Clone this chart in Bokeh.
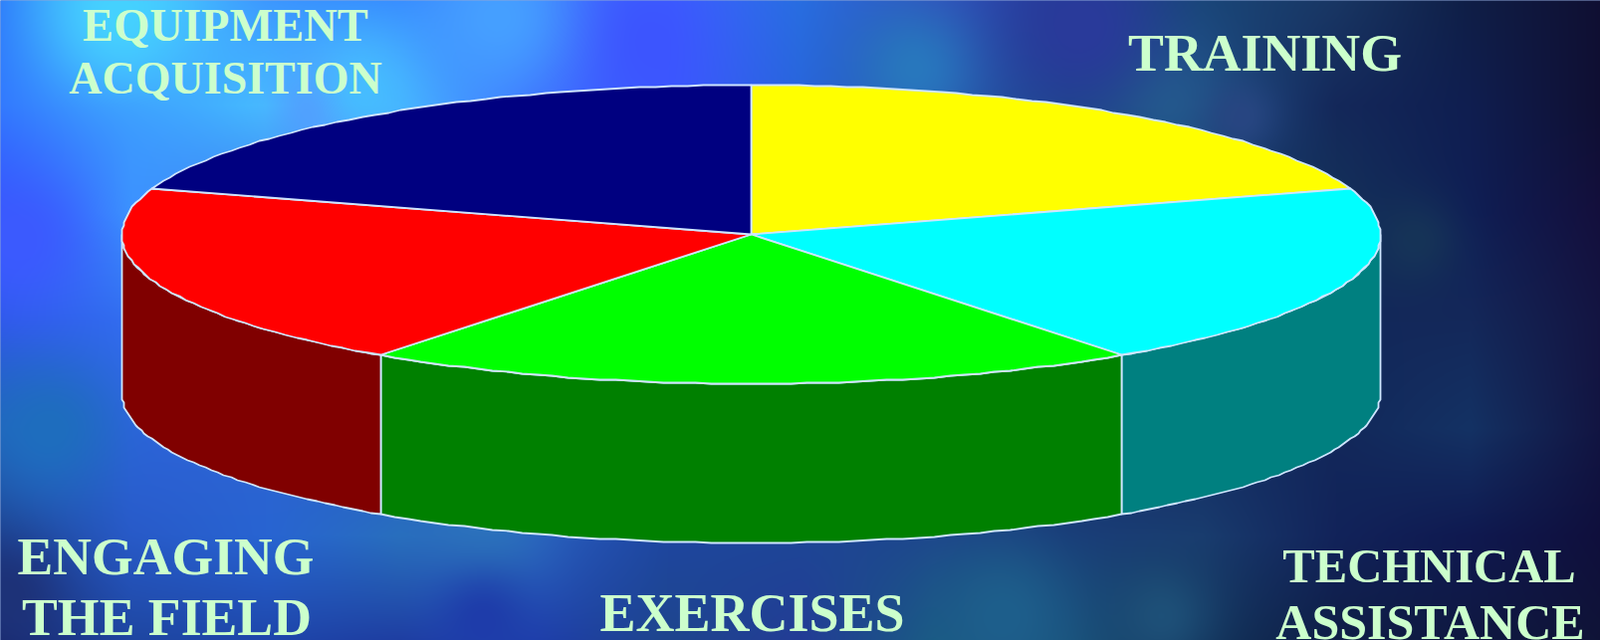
import numpy as np
from bokeh.plotting import figure
from bokeh.models import Range1d
from bokeh.core.properties import value
from bokeh.embed import file_html
from bokeh.resources import INLINE

# ---- chart data ----
categories = ["TRAINING", "TECHNICAL ASSISTANCE", "EXERCISES", "ENGAGING THE FIELD", "EQUIPMENT ACQUISITION"]
shares = [20, 20, 20, 20, 20]
top_colors = ["#FFFF00", "#00FFFF", "#00FF00", "#FF0000", "#000080"]
side_colors = ["#808000", "#008080", "#008000", "#800000", "#000040"]

label_lines = ["TRAINING", "TECHNICAL", "ASSISTANCE", "EXERCISES", "ENGAGING", "THE FIELD", "EQUIPMENT", "ACQUISITION"]
label_x = [1270, 1435, 1436, 755, 166, 167, 226, 226]
label_y = [70, 584, 640, 633, 576, 637, 40, 93]
label_size = [53.8, 48.6, 50, 54, 53.6, 53.7, 46.5, 46]

# pie geometry in reference pixels
CX, CY, RX, RY, DEPTH = 754, 235, 632, 150, 160
W, H = 1607, 643
BASELINE_SHIFT = 0.32  # of the font size, to land the alphabetic baseline on label_y

# background colour samples (rows top to bottom, columns left to right)
bg_rows = [
    [(45,120,250),(70,190,255),(60,150,255),(50,130,255),(60,130,255),(60,100,255),(40,110,225),(50,80,190),(35,60,150),(25,70,120),(25,55,100),(15,30,70),(15,15,50)],
    [(50,120,255),(60,150,255),(70,190,255),(70,170,255),(60,110,255),(60,90,255),(40,100,220),(40,80,170),(30,70,140),(30,75,130),(20,40,90),(15,30,80),(15,15,50)],
    [(50,90,255),(60,150,255),(60,120,240),(50,100,220),(40,90,200),(40,80,190),(30,70,160),(30,60,140),(25,50,120),(20,50,100),(20,50,90),(15,30,85),(20,15,60)],
    [(45,90,230),(50,110,240),(50,100,220),(40,90,200),(40,80,190),(35,75,170),(30,70,150),(30,60,130),(25,50,110),(20,45,100),(18,40,90),(20,40,90),(20,20,65)],
    [(35,100,190),(45,100,220),(45,100,210),(40,90,200),(40,90,190),(35,75,170),(30,70,150),(30,60,130),(25,50,110),(20,45,100),(18,40,90),(20,50,100),(18,20,65)],
    [(30,70,150),(40,90,200),(40,100,210),(40,110,190),(40,90,190),(30,70,160),(30,70,150),(30,70,140),(25,60,120),(25,60,110),(18,35,90),(15,25,80),(15,15,60)],
    [(25,40,110),(30,70,160),(30,70,170),(30,60,160),(30,60,170),(30,70,140),(35,60,150),(25,90,130),(25,80,120),(18,50,90),(15,30,70),(15,25,65),(15,20,55)],
]
# local clouds of the background: x, y, radius, colour
bg_spots = [
    (918, 70, 45, (40,120,190)), (1170, 102, 40, (35,90,140)), (1243, 119, 25, (40,70,130)),
    (1418, 242, 30, (22,52,88)), (1165, 615, 35, (30,80,120)), (1005, 615, 50, (30,95,140)),
    (326, 107, 30, (90,140,255)), (622, 37, 60, (60,80,255)), (485, 549, 45, (45,120,190)),
    (485, 619, 40, (30,60,170)), (51, 430, 45, (30,110,190)), (10, 594, 35, (30,50,120)),
    (120, 15, 55, (70,210,255)), (370, 90, 45, (70,190,255)), (500, 20, 60, (70,160,255)),
    (1085, 30, 50, (42,58,155)), (20, 240, 50, (60,90,255)),
]


def background():
    grid = np.array(bg_rows, dtype=float)
    gy = np.linspace(0, H, grid.shape[0])
    gx = np.linspace(0, W, grid.shape[1])
    xs = np.arange(W)
    ys = np.arange(H)
    by_col = np.stack([[np.interp(ys, gy, grid[:, c, k]) for k in range(3)] for c in range(grid.shape[1])])
    band = np.zeros((H, W, 3))
    for k in range(3):
        band[:, :, k] = np.stack([np.interp(xs, gx, by_col[:, k, r]) for r in range(H)])
    xx, yy = np.meshgrid(xs, ys)
    for sx, sy_, r, col in bg_spots:
        w = np.exp(-((xx - sx) ** 2 + (yy - sy_) ** 2) / (2.0 * r * r))[:, :, None]
        band = band * (1 - w) + np.array(col, dtype=float) * w
    out = np.zeros((H, W, 4), dtype=np.uint8)
    out[:, :, :3] = np.clip(band, 0, 255).astype(np.uint8)
    out[:, :, 3] = 255
    return out[::-1]


def sy(y):
    return H - np.asarray(y, dtype=float)


def arc(a0, a1, drop=0.0, n=50):
    t = np.radians(np.linspace(a0, a1, n))
    return CX + np.round(RX * np.sin(t) / 2) * 2, CY + np.round(-RY * np.cos(t)) + drop


p = figure(width=W, height=H, output_backend="svg", toolbar_location=None,
           x_range=Range1d(0, W), y_range=Range1d(0, H),
           x_axis_type=None, y_axis_type=None, min_border=0, outline_line_color=None,
           border_fill_color="#1E50B4", background_fill_color="#1E50B4")
p.grid.visible = False

img = background().view(np.uint32).reshape(H, W)
p.image_rgba(image=[img], x=-3, y=-3, dw=W + 6, dh=H + 6)

edges = np.cumsum([0] + shares) / sum(shares) * 360.0
EDGE = "#CFE6FF"

# walls: only the part of each slice on the near half of the pie
for i in range(len(shares)):
    a0, a1 = max(edges[i], 90.0), min(edges[i + 1], 270.0)
    if a1 <= a0:
        continue
    x0, y0 = arc(a0, a1)
    x1, y1 = arc(a1, a0, DEPTH)
    p.patch(np.r_[x0, x1], sy(np.r_[y0, y1]), fill_color=side_colors[i], line_color=EDGE, line_width=1.8)

# top face
for i in range(len(shares)):
    x0, y0 = arc(edges[i], edges[i + 1])
    p.patch(np.r_[CX, x0], sy(np.r_[CY, y0]), fill_color=top_colors[i], line_color=EDGE, line_width=1.8)

text_y = [float(sy(y + 0) + BASELINE_SHIFT * s) for y, s in zip(label_y, label_size)]
p.text(x=label_x, y=text_y, text=label_lines, text_color="#CCFFCC",
       text_font=value("Liberation Serif"), text_font_style="bold",
       text_font_size=[f"{s}px" for s in label_size], text_align="center", text_baseline="alphabetic")

open("out.html", "w").write(file_html(p, INLINE))
